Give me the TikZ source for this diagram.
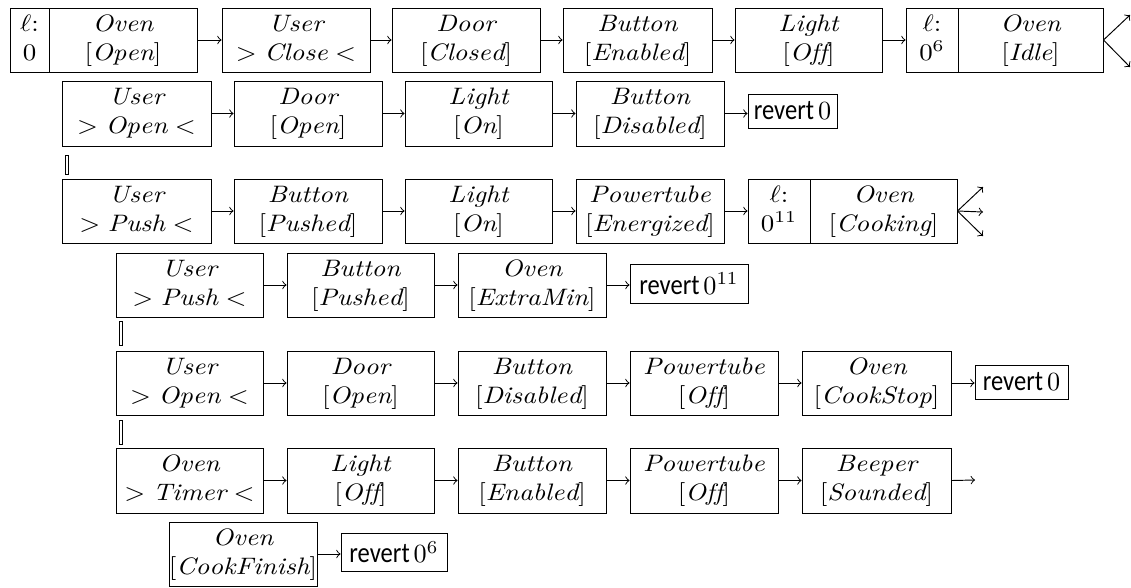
\documentclass[tikz,border=0pt]{standalone}
\usepackage{graphicx}
\usepackage{fontspec}
\newfontfamily\revfont{Carlito}
\newcommand\pxu{0.42pt}
\tikzset{
  box/.style={draw, line width=0.4pt, inner sep=0pt, align=center},
  arr/.style={->, line width=0.4pt},
  dbl/.style={line width=0.4pt},
}
% \bx{name}{x1}{y1}{x2}{y2}{text}: a box given by its corners
\newcommand\bx[6]{\node[box, minimum width={(#4-#2)*\pxu}, minimum height={(#5-#3)*\pxu}] (#1) at ({(#2+#4)/2},{(#3+#5)/2}) {#6};}
% two-line labels, set slightly wide
\newcommand\two[2]{\scalebox{1.13}[1]{\begin{tabular}{@{}c@{}}#1\\#2\end{tabular}}}
\newcommand\st[2]{\two{$\mathit{#1}$}{$[\mathit{#2}]$}}
\newcommand\ev[2]{\two{$\mathit{#1}$}{$>\mathit{#2}<$}}
\newcommand\lab[1]{\two{$\ell$:}{$#1$}}
\newcommand\rv[1]{{\revfont\fontsize{12pt}{14pt}\selectfont\scalebox{0.86}[1]{revert}}\,\scalebox{1.1}{$#1$}}
\begin{document}
\begin{tikzpicture}[x=\pxu, y=-\pxu]
\useasboundingbox (0,0) rectangle (1131,587);

% row 1
\bx{s1l}{10}{8}{49}{72}{\lab{0}}
\bx{s1r}{49}{8}{197}{72}{\st{Oven}{Open}}
\bx{r1b}{222}{8}{370}{72}{\ev{User}{Close}}
\bx{r1c}{392}{8}{540}{72}{\st{Door}{Closed}}
\bx{r1d}{563}{8}{712}{72}{\st{Button}{Enabled}}
\bx{r1e}{735}{8}{882}{72}{\st{Light}{Off}}
\bx{s2l}{906}{8}{958}{72}{\lab{0^6}}
\bx{s2r}{958}{8}{1103}{72}{\st{Oven}{Idle}}
\coordinate (e1u) at (1130,15);
\coordinate (e1d) at (1130,67);
\draw[arr] (s1r.east) -- (r1b.west);
\draw[arr] (r1b.east) -- (r1c.west);
\draw[arr] (r1c.east) -- (r1d.west);
\draw[arr] (r1d.east) -- (r1e.west);
\draw[arr] (r1e.east) -- (s2l.west);
\draw[arr] (s2r.east) -- (e1u);
\draw[arr] (s2r.east) -- (e1d);

% row 2
\bx{r2a}{62}{81}{211}{146}{\ev{User}{Open}}
\bx{r2b}{234}{81}{382}{146}{\st{Door}{Open}}
\bx{r2c}{405}{81}{552}{146}{\st{Light}{On}}
\bx{r2d}{576}{81}{724}{146}{\st{Button}{Disabled}}
\bx{rv1}{748}{94}{837}{128}{\rv{0}}
\draw[arr] (r2a.east) -- (r2b.west);
\draw[arr] (r2b.east) -- (r2c.west);
\draw[arr] (r2c.east) -- (r2d.west);
\draw[arr] (r2d.east) -- (r2d.east -| rv1.west);

% row 3
\bx{r3a}{62}{179}{211}{243}{\ev{User}{Push}}
\bx{r3b}{234}{179}{382}{243}{\st{Button}{Pushed}}
\bx{r3c}{405}{179}{552}{243}{\st{Light}{On}}
\bx{r3d}{576}{179}{724}{243}{\st{Powertube}{Energized}}
\bx{s3l}{748}{179}{810}{243}{\lab{0^{11}}}
\bx{s3r}{810}{179}{957}{243}{\st{Oven}{Cooking}}
\coordinate (e3u) at (983,187);
\coordinate (e3m) at (983,212);
\coordinate (e3d) at (983,236);
\draw[arr] (r3a.east) -- (r3b.west);
\draw[arr] (r3b.east) -- (r3c.west);
\draw[arr] (r3c.east) -- (r3d.west);
\draw[arr] (r3d.east) -- (s3l.west);
\draw[arr] (s3r.east) -- (e3u);
\draw[arr] (s3r.east) -- (e3m);
\draw[arr] (s3r.east) -- (e3d);

% row 4
\bx{r4a}{116}{253}{263}{317}{\ev{User}{Push}}
\bx{r4b}{287}{253}{434}{317}{\st{Button}{Pushed}}
\bx{r4c}{458}{253}{606}{317}{\st{Oven}{ExtraMin}}
\bx{rv2}{630}{264}{748}{303}{\rv{0^{11}}}
\draw[arr] (r4a.east) -- (r4b.west);
\draw[arr] (r4b.east) -- (r4c.west);
\draw[arr] (r4c.east) -- (r4c.east -| rv2.west);

% row 5
\bx{r5a}{116}{351}{263}{415}{\ev{User}{Open}}
\bx{r5b}{287}{351}{434}{415}{\st{Door}{Open}}
\bx{r5c}{458}{351}{606}{415}{\st{Button}{Disabled}}
\bx{r5d}{630}{351}{778}{415}{\st{Powertube}{Off}}
\bx{r5e}{802}{351}{951}{415}{\st{Oven}{CookStop}}
\bx{rv3}{975}{365}{1068}{399}{\rv{0}}
\draw[arr] (r5a.east) -- (r5b.west);
\draw[arr] (r5b.east) -- (r5c.west);
\draw[arr] (r5c.east) -- (r5d.west);
\draw[arr] (r5d.east) -- (r5e.west);
\draw[arr] (r5e.east) -- (r5e.east -| rv3.west);

% row 6
\bx{r6a}{116}{448}{263}{513}{\ev{Oven}{Timer}}
\bx{r6b}{287}{448}{434}{513}{\st{Light}{Off}}
\bx{r6c}{458}{448}{606}{513}{\st{Button}{Enabled}}
\bx{r6d}{630}{448}{778}{513}{\st{Powertube}{Off}}
\bx{r6e}{802}{448}{951}{513}{\st{Beeper}{Sounded}}
\coordinate (e6) at (975,480);
\draw[arr] (r6a.east) -- (r6b.west);
\draw[arr] (r6b.east) -- (r6c.west);
\draw[arr] (r6c.east) -- (r6d.west);
\draw[arr] (r6d.east) -- (r6e.west);
\draw[arr] (r6e.east) -- (e6);

% row 7
\bx{r7a}{169}{522}{317}{586}{\st{Oven}{CookFinish}}
\bx{rv4}{341}{533}{447}{571}{\rv{0^6}}
\draw[arr] (r7a.east) -- (r7a.east -| rv4.west);

% parallel links between rows
\draw[dbl] ([xshift={3.5*\pxu}, yshift={-9*\pxu}]r2a.south west) rectangle ([xshift={6.5*\pxu}, yshift={4*\pxu}]r3a.north west);
\draw[dbl] ([xshift={3.5*\pxu}, yshift={-4*\pxu}]r4a.south west) rectangle ([xshift={6.5*\pxu}, yshift={5*\pxu}]r5a.north west);
\draw[dbl] ([xshift={3.5*\pxu}, yshift={-5*\pxu}]r5a.south west) rectangle ([xshift={6.5*\pxu}, yshift={3*\pxu}]r6a.north west);
\end{tikzpicture}
\end{document}
